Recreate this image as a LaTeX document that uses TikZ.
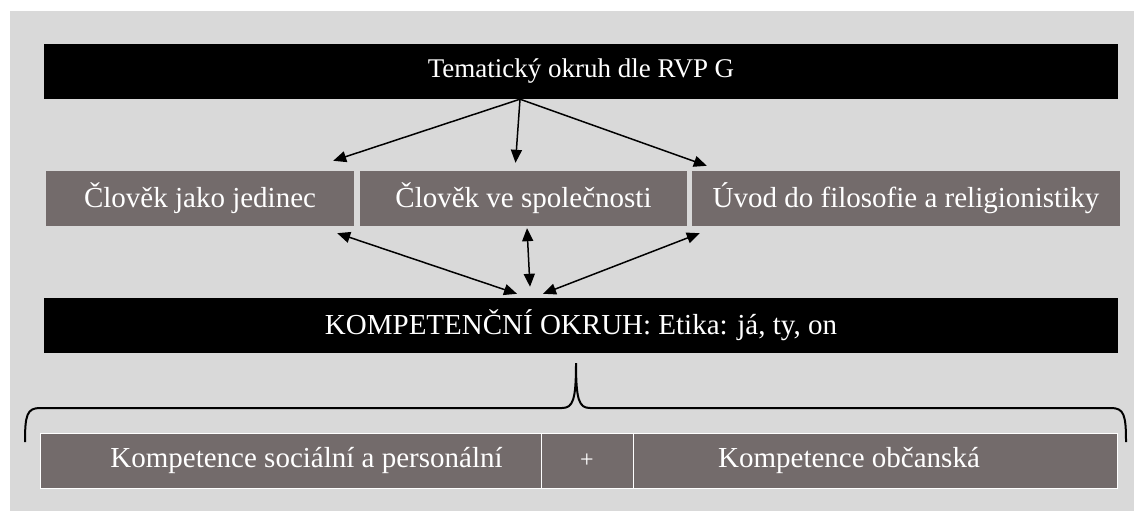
\documentclass[tikz,border=0pt]{standalone}
\usepackage{fontspec}
\setmainfont{Liberation Serif}
\usetikzlibrary{arrows.meta}
\definecolor{panelgray}{RGB}{217,217,217}
\definecolor{boxgray}{RGB}{115,107,107}

\begin{document}
\begin{tikzpicture}[x=1pt,y=-1pt,
        bar/.style={fill=black, text=white, minimum width=1074pt, minimum height=55pt, inner sep=0pt},
        topic/.style={fill=boxgray, text=white, minimum height=55pt, inner sep=0pt, font=\fontsize{29}{34}\selectfont},
        comp/.style={fill=boxgray, draw=white, thin, text=white, minimum height=55pt, inner sep=0pt, font=\fontsize{29}{34}\selectfont},
        link/.style={line width=1.5pt, -{Triangle[length=13pt,width=11pt]}},
        twolink/.style={line width=1.5pt, {Triangle[length=13pt,width=11pt]}-{Triangle[length=13pt,width=11pt]}}]
        \useasboundingbox (0,0) rectangle (1134,511);
        \fill[panelgray] (10,11) rectangle (1134,511);
        \node[bar, font=\fontsize{27}{32}\selectfont] (rvp) at (581,71.5) {Tematický okruh dle RVP G};
        \node[topic, minimum width=308pt] (jedinec) at (200,198.5) {Člověk jako jedinec};
        \node[topic, minimum width=327pt] (spolecnost) at (523.5,198.5) {Člověk ve společnosti};
        \node[topic, minimum width=428pt] (filosofie) at (906,198.5) {Úvod do filosofie a religionistiky};
        \node[bar, font=\fontsize{29}{34}\selectfont] (okruh) at (581,325.5) {KOMPETENČNÍ OKRUH: Etika: já, ty, on};
        \node[comp, minimum width=501pt] (socialni) at (290.5,460.5) {\hspace*{32pt}Kompetence sociální a personální};
        \node[comp, minimum width=92pt, font=\fontsize{24}{28}\selectfont] (plus) at (587,460.5) {+};
        \node[comp, minimum width=484pt] (obcanska) at (875,460.5) {Kompetence občanská\hspace*{52pt}};
        % arrows from the thematic area
        \draw[link] ([xshift=-61pt]rvp.south) -- ([xshift=-21pt,yshift=10pt]jedinec.north east);
        \draw[link] ([xshift=-61pt]rvp.south) -- ([xshift=-8pt,yshift=8pt]spolecnost.north);
        \draw[link] ([xshift=-61pt]rvp.south) -- ([xshift=15pt,yshift=5pt]filosofie.north west);
        % arrows to the competence area
        \draw[twolink] ([xshift=-17pt,yshift=-7pt]jedinec.south east) -- ([xshift=-64pt,yshift=4pt]okruh.north);
        \draw[twolink] ([xshift=3.5pt,yshift=-2pt]spolecnost.south) -- ([xshift=-51pt,yshift=11pt]okruh.north);
        \draw[twolink] ([xshift=8pt,yshift=-7pt]filosofie.south west) -- ([xshift=-38pt,yshift=4pt]okruh.north);
        % brace
        \draw[line width=2pt] (25,442) .. controls (25,415) and (27,408) .. (40,408) -- (562,408)
                .. controls (573,408) and (576,400) .. (576,363)
                .. controls (576,400) and (579,408) .. (590,408) -- (1111,408)
                .. controls (1124,408) and (1126,415) .. (1126,442);
\end{tikzpicture}
\end{document}
